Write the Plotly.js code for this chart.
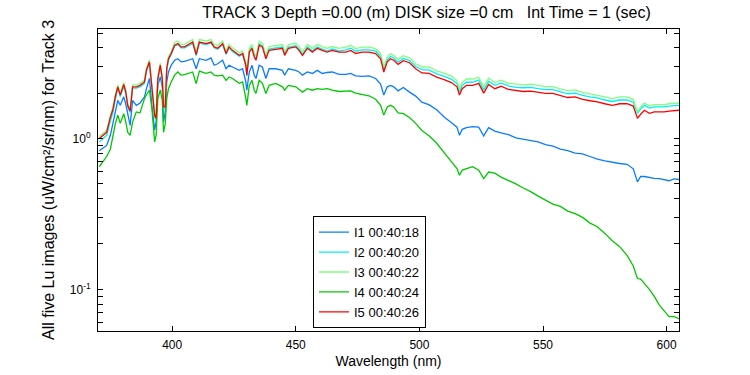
<!DOCTYPE html>
<html>
<head>
<meta charset="utf-8">
<script src="https://cdn.plot.ly/plotly-3.0.1.min.js"></script>
<style>html,body{margin:0;padding:0;background:#fff;}#chart{width:750px;height:375px;}</style>
</head>
<body>
<div id="chart"></div>
<script>
const wavelength = [370.5,372,373.5,375,376,377,378,379,380.4,381.2,
 382,383,384,385.5,387,388.8,389.6,390.8,391.8,392.9,
 393.5,394.2,395.2,396,396.5,397.2,397.8,398.5,399.6,401,
 402.3,403.6,405,406.3,408.3,409.7,411,413.7,415.7,417,
 418.4,420.4,421.8,423,424.4,427.1,428.5,429.8,430.2,431.2,
 432.3,433.2,433.9,435.2,436.5,437.9,439.2,441.9,444.6,445.5,
 447,450,451.3,452.7,454.7,456.7,458.7,460.7,462.7,464.7,
 467.5,470.2,472.2,474.2,476.9,479.6,482.3,484.3,485.6,487,
 488.3,489.6,491.4,493.5,496,498.5,501,504,507,510,
 513,515.2,516.2,517.3,519,521.5,524,526,528,530.5,
 533,536,539,542,545,548,551,554,557,560,
 563,566,569,572,575,578,581,584,586.5,588.2,
 589.5,591,593,595,597,599,601,603,605];

const I1 = [0.83,0.86,0.90,1.05,1.25,1.55,1.79,1.66,1.89,1.70,
 1.43,1.22,1.79,1.66,1.72,1.89,2.14,2.50,1.66,1.14,
 1.29,2.25,2.56,2.20,1.29,1.50,2.37,2.76,3.06,3.30,
 3.38,3.22,3.25,3.30,3.38,2.90,3.38,3.30,3.42,3.06,
 3.13,3.30,2.90,3.06,2.98,2.83,2.90,2.37,2.09,2.76,
 3.06,2.63,2.50,3.06,2.98,2.50,2.90,2.90,2.83,2.63,
 2.90,2.83,2.76,2.63,2.76,2.70,2.83,2.70,2.74,2.76,
 2.66,2.66,2.70,2.60,2.58,2.60,2.50,2.30,1.94,2.20,
 2.25,2.20,2.07,2.18,2.03,1.91,1.74,1.67,1.55,1.39,
 1.27,1.19,1.05,1.15,1.18,1.20,1.19,1.04,1.18,1.12,
 1.09,1.06,1.01,0.99,0.96,0.95,0.91,0.89,0.85,0.83,
 0.80,0.79,0.76,0.73,0.71,0.695,0.683,0.675,0.63,0.516,
 0.56,0.56,0.55,0.545,0.543,0.535,0.525,0.54,0.535];

const I2 = [0.95,1.00,1.05,1.31,1.48,1.80,2.16,1.90,2.23,2.00,
 1.63,1.49,2.16,2.16,2.20,2.32,2.79,3.16,2.20,1.40,
 1.33,2.45,3.00,2.45,1.59,1.59,2.84,3.31,3.59,4.09,
 4.20,3.99,3.99,4.09,4.29,3.55,4.29,4.20,4.29,3.99,
 3.90,4.20,3.61,3.99,3.78,3.51,3.61,3.01,2.59,3.81,
 4.04,3.54,3.37,4.23,4.13,3.45,3.92,3.98,4.04,3.63,
 4.04,4.13,3.92,3.63,4.04,3.81,4.04,3.92,3.81,3.92,
 3.81,3.87,3.97,3.79,3.87,3.87,3.79,3.50,2.86,3.33,
 3.50,3.42,3.21,3.39,3.29,3.00,2.86,2.84,2.68,2.58,
 2.47,2.31,2.04,2.25,2.36,2.36,2.44,2.10,2.39,2.25,
 2.33,2.23,2.18,2.17,2.18,2.14,2.11,2.11,2.04,1.98,
 2.00,1.93,1.89,1.86,1.80,1.76,1.80,1.80,1.74,1.47,
 1.57,1.66,1.59,1.62,1.62,1.62,1.64,1.65,1.66];

const I3 = [1.03,1.08,1.13,1.42,1.60,1.95,2.27,2.00,2.35,2.11,
 1.71,1.57,2.27,2.27,2.32,2.44,2.94,3.32,2.32,1.47,
 1.40,2.58,3.15,2.58,1.67,1.67,2.99,3.48,3.77,4.32,
 4.43,4.21,4.21,4.32,4.53,3.74,4.53,4.43,4.53,4.21,
 4.12,4.43,3.81,4.21,3.99,3.70,3.81,3.18,2.74,3.96,
 4.20,3.68,3.50,4.40,4.29,3.58,4.07,4.13,4.20,3.77,
 4.20,4.29,4.07,3.77,4.20,3.96,4.20,4.07,3.96,4.07,
 3.96,4.04,4.15,3.95,4.04,4.04,3.95,3.65,2.98,3.48,
 3.65,3.56,3.35,3.54,3.43,3.13,2.99,2.97,2.81,2.71,
 2.59,2.42,2.13,2.35,2.48,2.48,2.55,2.20,2.51,2.35,
 2.44,2.33,2.29,2.27,2.29,2.24,2.21,2.21,2.13,2.08,
 2.10,2.02,1.98,1.94,1.89,1.84,1.89,1.89,1.82,1.50,
 1.62,1.72,1.65,1.68,1.68,1.68,1.70,1.71,1.72];

const I4 = [0.65,0.70,0.76,0.85,1.05,1.25,1.43,1.26,1.46,1.30,
 1.10,1.05,1.29,1.50,1.48,1.84,1.95,2.09,1.58,0.95,
 1.05,1.84,2.09,1.80,1.10,1.25,1.84,2.14,2.37,2.63,
 2.76,2.63,2.65,2.70,2.76,2.31,2.80,2.70,2.76,2.63,
 2.60,2.63,2.43,2.56,2.50,2.32,2.37,1.84,1.66,2.25,
 2.43,2.09,1.99,2.43,2.32,1.99,2.25,2.32,2.20,2.09,
 2.25,2.20,2.12,2.03,2.14,2.09,2.14,2.12,2.14,2.09,
 2.05,2.05,2.07,2.00,1.97,1.92,1.82,1.66,1.43,1.62,
 1.66,1.62,1.48,1.46,1.38,1.26,1.13,1.04,0.93,0.80,
 0.70,0.633,0.571,0.617,0.633,0.65,0.617,0.543,0.60,0.59,
 0.555,0.53,0.50,0.47,0.445,0.415,0.39,0.368,0.355,0.33,
 0.318,0.30,0.275,0.26,0.235,0.21,0.192,0.168,0.143,0.118,
 0.117,0.11,0.10,0.09,0.079,0.072,0.066,0.066,0.064];

const I5 = [1.00,1.05,1.10,1.38,1.55,1.89,2.20,1.94,2.28,2.05,
 1.66,1.52,2.20,2.20,2.25,2.37,2.85,3.22,2.25,1.43,
 1.36,2.50,3.06,2.50,1.62,1.62,2.90,3.38,3.66,4.15,
 4.26,4.05,4.05,4.15,4.36,3.60,4.36,4.26,4.36,4.05,
 3.96,4.26,3.66,4.05,3.84,3.56,3.66,3.06,2.63,3.74,
 3.96,3.47,3.30,4.15,4.05,3.38,3.84,3.90,3.96,3.56,
 3.96,4.05,3.84,3.56,3.96,3.74,3.96,3.84,3.74,3.84,
 3.74,3.74,3.84,3.66,3.74,3.74,3.66,3.38,2.76,3.22,
 3.38,3.30,3.10,3.28,3.18,2.90,2.72,2.70,2.55,2.46,
 2.35,2.20,1.94,2.14,2.25,2.25,2.32,2.00,2.28,2.14,
 2.22,2.12,2.08,2.05,2.06,2.02,1.99,1.99,1.92,1.87,
 1.89,1.82,1.78,1.75,1.70,1.66,1.70,1.70,1.64,1.36,
 1.45,1.54,1.47,1.50,1.50,1.50,1.52,1.53,1.54];

const seriesNames = ['I1 00:40:18','I2 00:40:20','I3 00:40:22','I4 00:40:24','I5 00:40:26'];
const seriesValues = [I1, I2, I3, I4, I5];
const seriesColors = ['#0a7cff','#00f0f0','#80ff80','#00c800','#ff0000'];

const xTickVals = [400, 450, 500, 550, 600];
const yTickVals = [0.1, 1];
const yTickText = ['10<sup>-1</sup>', '10<sup>0</sup>'];
const yMinorVals = [0.06,0.07,0.08,0.09,0.2,0.3,0.4,0.5,0.6,0.7,0.8,0.9,2,3,4,5];

const FONT = 'Liberation Sans, Arial, Helvetica, sans-serif';

const traces = seriesValues.map((v, i) => ({
  type: 'scatter', mode: 'lines', x: wavelength, y: v, name: seriesNames[i],
  line: {color: seriesColors[i], width: 1.3}
}));

const layout = {
  width: 750, height: 375,
  margin: {l: 98, r: 71, t: 29, b: 44},
  paper_bgcolor: '#fff', plot_bgcolor: '#fff',
  font: {family: FONT, size: 12, color: '#000'},
  title: {text: 'TRACK 3 Depth =0.00 (m) DISK size =0 cm\u00a0\u00a0\u00a0Int Time = 1 (sec)',
          font: {family: FONT, size: 16, color: '#000'},
          x: 0.5687, xref: 'container', xanchor: 'center', y: 0.966, yref: 'container', yanchor: 'middle'},
  xaxis: {range: [370, 605], tickmode: 'array', tickvals: xTickVals, ticks: 'inside', ticklen: 5,
          tickcolor: '#000', showline: true, linecolor: '#000', linewidth: 1, mirror: 'ticks',
          showgrid: false, zeroline: false, tickfont: {family: FONT, size: 12}, ticklabelstandoff: 3,
          title: {text: 'Wavelength (nm)', font: {family: FONT, size: 14}, standoff: 4}},
  yaxis: {type: 'log', range: [Math.log10(0.053), Math.log10(5.32)], tickmode: 'array',
          tickvals: yTickVals, ticktext: yTickText, ticks: 'inside', ticklen: 5, tickcolor: '#000',
          minor: {tickmode: 'array', tickvals: yMinorVals, ticks: 'inside', ticklen: 5, tickcolor: '#000'},
          showline: true, linecolor: '#000', linewidth: 1, mirror: 'ticks',
          showgrid: false, zeroline: false, tickfont: {family: FONT, size: 12}, ticklabelstandoff: 4,
          title: {text: 'All five Lu images (uW/cm\u00b2/sr/nm) for Track 3', font: {family: FONT, size: 16}, standoff: 11}},
  legend: {x: 0.37, y: 0.38, xanchor: 'left', yanchor: 'top', bgcolor: '#fff',
           bordercolor: '#000', borderwidth: 1, font: {family: FONT, size: 13}, tracegroupgap: 0},
  showlegend: true
};

Plotly.newPlot('chart', traces, layout, {displayModeBar: false, staticPlot: true});
</script>
</body>
</html>
